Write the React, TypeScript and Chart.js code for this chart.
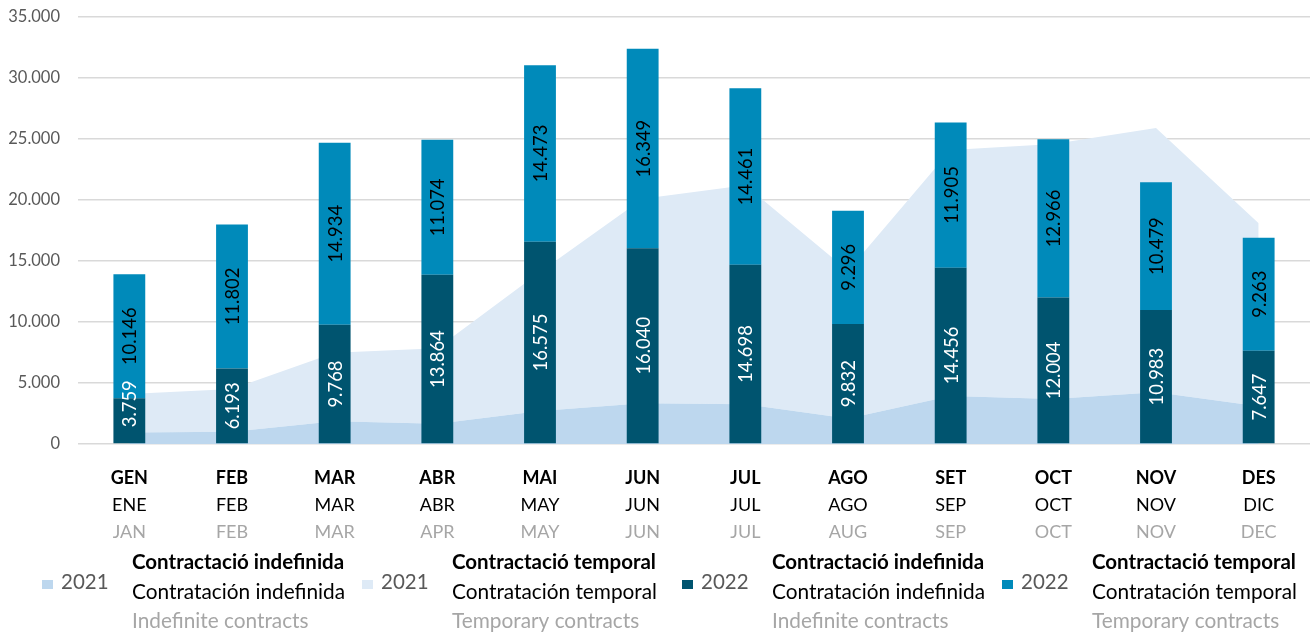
import React, { useEffect, useRef } from 'react';
import { Chart, registerables } from 'chart.js';

Chart.register(...registerables);

const FONT = 'Lato, "Noto Sans", sans-serif';

// Month labels (Catalan / Spanish / English)
const monthsCA = ['GEN', 'FEB', 'MAR', 'ABR', 'MAI', 'JUN', 'JUL', 'AGO', 'SET', 'OCT', 'NOV', 'DES'];
const monthsES = ['ENE', 'FEB', 'MAR', 'ABR', 'MAY', 'JUN', 'JUL', 'AGO', 'SEP', 'OCT', 'NOV', 'DIC'];
const monthsEN = ['JAN', 'FEB', 'MAR', 'APR', 'MAY', 'JUN', 'JUL', 'AUG', 'SEP', 'OCT', 'NOV', 'DEC'];

// 2021 (areas, stacked)
const indef2021 = [950, 1000, 1870, 1670, 2700, 3330, 3250, 2100, 3930, 3680, 4250, 3100];
const temp2021 = [3150, 3500, 5610, 6180, 11400, 16770, 17950, 12100, 20170, 20920, 21650, 15000];

// 2022 (stacked columns) – from data labels
const indef2022 = [3759, 6193, 9768, 13864, 16575, 16040, 14698, 9832, 14456, 12004, 10983, 7647];
const temp2022 = [10146, 11802, 14934, 11074, 14473, 16349, 14461, 9296, 11905, 12966, 10479, 9263];

const yMin = 0;
const yMax = 35000;
const yStep = 5000;

const legendYears = ['2021', '2021', '2022', '2022'];
const legendColors = ['#BDD7EE', '#DEEAF6', '#00546F', '#008ABA'];
const legendCA = ['Contractació indefinida', 'Contractació temporal', 'Contractació indefinida', 'Contractació temporal'];
const legendES = ['Contratación indefinida', 'Contratación temporal', 'Contratación indefinida', 'Contratación temporal'];
const legendEN = ['Indefinite contracts', 'Temporary contracts', 'Indefinite contracts', 'Temporary contracts'];

const fmt = (n: number) => Math.round(n).toString().replace(/\B(?=(\d{3})+(?!\d))/g, '.');

const barLabelsPlugin = {
  id: 'barLabels',
  afterDatasetsDraw(chart: any) {
    const ctx = chart.ctx as CanvasRenderingContext2D;
    [2, 3].forEach((di) => {
      const meta = chart.getDatasetMeta(di);
      const ds = chart.data.datasets[di];
      meta.data.forEach((el: any, i: number) => {
        const { x, y, base } = el.getProps(['x', 'y', 'base'], true);
        const text = fmt(ds.data[i] as number);
        ctx.save();
        ctx.font = `18.4px ${FONT}`;
        const w = ctx.measureText(text).width;
        const h = base - y;
        let cy = (y + base) / 2;
        if (w > h) cy = Math.min(cy, base - w / 2 - 16);
        ctx.translate(x, cy);
        ctx.rotate(-Math.PI / 2);
        ctx.fillStyle = di === 2 ? '#FFFFFF' : '#000000';
        ctx.textAlign = 'center';
        ctx.textBaseline = 'alphabetic';
        ctx.fillText(text, 0, 7);
        ctx.restore();
      });
    });
  },
};

const axisLegendPlugin = {
  id: 'axisLegend',
  afterDraw(chart: any) {
    const ctx = chart.ctx as CanvasRenderingContext2D;
    const xs = chart.scales.x;
    ctx.save();
    ctx.textAlign = 'center';
    ctx.textBaseline = 'alphabetic';
    monthsCA.forEach((m, i) => {
      const x = xs.getPixelForValue(i);
      ctx.font = `bold 18px ${FONT}`;
      ctx.fillStyle = '#000000';
      ctx.fillText(m, x, 484);
      ctx.font = `18px ${FONT}`;
      ctx.fillText(monthsES[i], x, 511);
      ctx.fillStyle = '#A6A6A6';
      ctx.fillText(monthsEN[i], x, 538);
    });
    // legend
    ctx.textAlign = 'left';
    legendYears.forEach((yr, i) => {
      const x0 = 42 + i * 320;
      ctx.fillStyle = legendColors[i];
      ctx.fillRect(x0, 580, 11, 9);
      ctx.fillStyle = '#595959';
      ctx.font = `20.5px ${FONT}`;
      ctx.fillText(yr, x0 + 19, 589);
      ctx.fillStyle = '#000000';
      ctx.font = `bold 20.5px ${FONT}`;
      ctx.fillText(legendCA[i], x0 + 90, 569);
      ctx.font = `20.8px ${FONT}`;
      ctx.fillText(legendES[i], x0 + 90, 599);
      ctx.fillStyle = '#A6A6A6';
      ctx.fillText(legendEN[i], x0 + 90, 628);
    });
    ctx.restore();
  },
};

export default function App() {
  const ref = useRef<HTMLCanvasElement>(null);
  useEffect(() => {
    document.body.style.margin = '0';
    const canvas = ref.current!;
    const chart = new Chart(canvas, {
      type: 'bar',
      data: {
        labels: monthsCA,
        datasets: [
          {
            type: 'line',
            label: '2021 Contractació indefinida',
            data: indef2021,
            stack: 'a2021',
            fill: 'origin',
            backgroundColor: '#BDD7EE',
            borderColor: 'rgba(0,0,0,0)',
            borderWidth: 0,
            pointRadius: 0,
            tension: 0,
            order: 1,
          } as any,
          {
            type: 'line',
            label: '2021 Contractació temporal',
            data: temp2021,
            stack: 'a2021',
            fill: '-1',
            backgroundColor: '#DEEAF6',
            borderColor: 'rgba(0,0,0,0)',
            borderWidth: 0,
            pointRadius: 0,
            tension: 0,
            order: 2,
          } as any,
          {
            type: 'bar',
            label: '2022 Contractació indefinida',
            data: indef2022,
            stack: 'b2022',
            backgroundColor: '#00546F',
            barPercentage: 0.31,
            categoryPercentage: 1,
            order: 0,
          } as any,
          {
            type: 'bar',
            label: '2022 Contractació temporal',
            data: temp2022,
            stack: 'b2022',
            backgroundColor: '#008ABA',
            barPercentage: 0.31,
            categoryPercentage: 1,
            order: 0,
          } as any,
        ],
      },
      options: {
        responsive: false,
        animation: false,
        devicePixelRatio: 1,
        layout: { padding: { top: 17, right: 2, left: 0, bottom: 0 } },
        plugins: { legend: { display: false }, tooltip: { enabled: false } },
        scales: {
          x: {
            stacked: true,
            grid: { display: false },
            border: { display: false },
            ticks: { display: false },
            afterFit: (s: any) => {
              s.height = 190;
            },
          },
          y: {
            stacked: true,
            min: yMin,
            max: yMax,
            ticks: {
              stepSize: yStep,
              padding: 18,
              color: '#595959',
              font: { family: FONT, size: 16.5 },
              callback: (v: any) => fmt(Number(v)),
            },
            grid: { color: '#D9D9D9', lineWidth: 1.5, drawTicks: false },
            border: { display: false },
            afterFit: (s: any) => {
              s.width = 78;
              s.paddingTop = 0;
              s.paddingBottom = 0;
            },
          },
        },
      } as any,
      plugins: [barLabelsPlugin, axisLegendPlugin],
    });
    return () => chart.destroy();
  }, []);
  return (
    <div style={{ width: 1312, height: 634 }}>
      <canvas ref={ref} width={1312} height={634} style={{ display: 'block' }} />
    </div>
  );
}
